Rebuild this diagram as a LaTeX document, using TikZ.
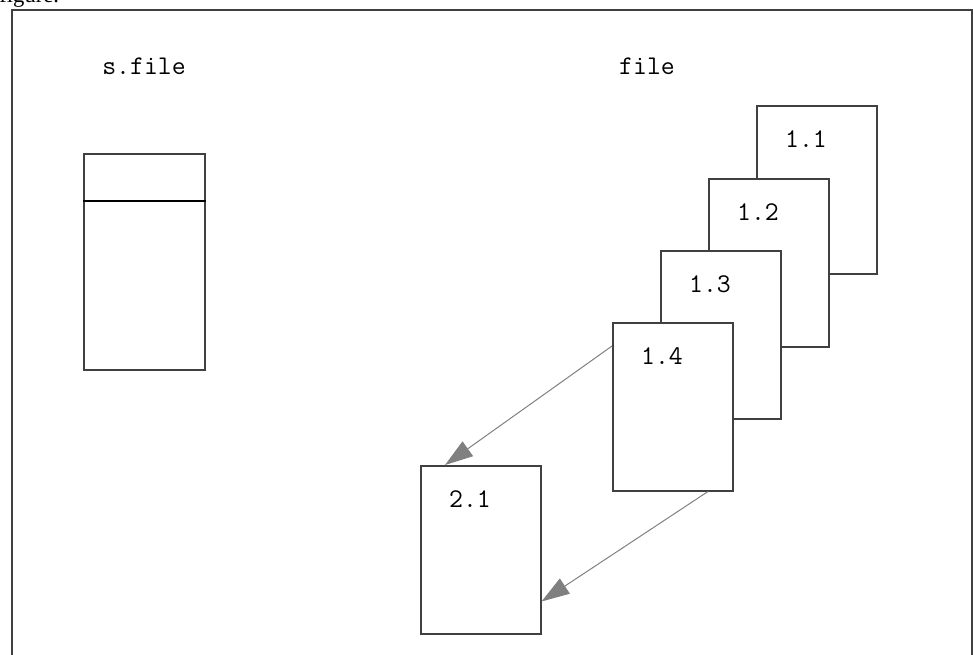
\documentclass[tikz,border=0pt]{standalone}
\usepackage{fontspec}
\setmainfont{Liberation Serif}
\usetikzlibrary{arrows.meta,calc}

\tikzset{
	page/.style={draw=black!75, line width=0.75pt, fill=white, inner sep=0pt,
		minimum width=60pt, minimum height=84pt, anchor=north west},
	tag/.style={font=\ttfamily\fontsize{13.5}{15}\selectfont, inner sep=0pt, anchor=base},
	link/.style={draw=black!50, line width=0.5pt,
		-{Triangle[length=14pt,width=9pt,fill=black!50]}},
}

\begin{document}
\begin{tikzpicture}[x={(0.5pt,0pt)}, y={(0pt,-0.5pt)}] % y grows downwards
		
		\useasboundingbox (0,0) rectangle (973,654);
		\node[anchor=base west, inner sep=0pt, font=\fontsize{11.3}{13}\selectfont] (cap) at (-1,2) {figure.};
		\draw[draw=black!75, line width=0.75pt] (12,670) -- (12,10) -- (972,10) -- (972,670);
		
		% the structure file
		\node[tag] (sname) at (144,74) {s.file};
		\node[page, minimum width=60.5pt, minimum height=108pt] (sf) at (83,153) {};
		\draw[line width=0.75pt] ($(sf.north west)+(0,48)$) -- ($(sf.north east)+(0,48)$);
		
		% the versions of the file
		\node[tag] (fname) at (647,74) {file};
		\node[page] (p11) at (756,105) {};
		\node[tag] (t11) at ($(p11.north west)+(50,42)$) {1.1};
		\node[page] (p12) at (708,178) {};
		\node[tag] (t12) at ($(p12.north west)+(50,42)$) {1.2};
		\node[page] (p13) at (660,250) {};
		\node[tag] (t13) at ($(p13.north west)+(50,42)$) {1.3};
		\node[page] (p14) at (612,322) {};
		\node[tag] (t14) at ($(p14.north west)+(50,42)$) {1.4};
		\node[page] (p21) at (420,465) {};
		\node[tag] (t21) at ($(p21.north west)+(50,42)$) {2.1};
		
		\coordinate (a1) at ($(p14.north west)+(0,24)$);
		\coordinate (b1) at ($(p21.north west)+(25,0)$);
		\coordinate (a2) at ($(p14.south west)+(96,0)$);
		\coordinate (b2) at ($(p21.south east)+(0,-33)$);
		\draw[link] (a1) -- (b1);
		\draw[link] (a2) -- (b2);
		\end{tikzpicture}
\end{document}
